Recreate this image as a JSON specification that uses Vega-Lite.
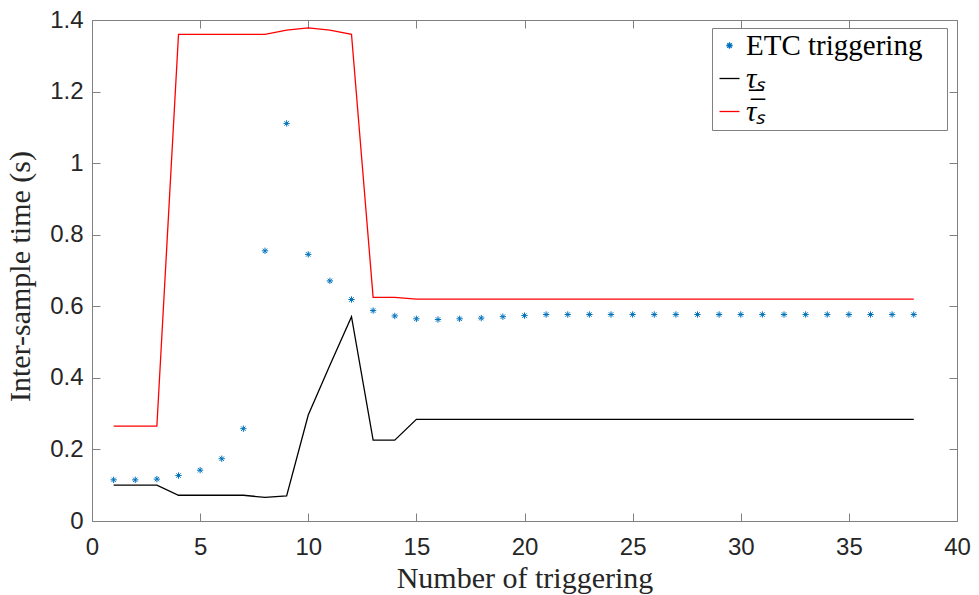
{
  "$schema": "https://vega.github.io/schema/vega-lite/v6.json",
  "autosize": "none",
  "width": 865,
  "height": 501,
  "padding": {"left": 92, "top": 20, "right": 22, "bottom": 74},
  "background": "white",
  "config": {"view": {"stroke": null}},
  "datasets": {
    "etc": [
      {"n":1,"t":0.115},{"n":2,"t":0.115},{"n":3,"t":0.117},{"n":4,"t":0.127},{"n":5,"t":0.142},
      {"n":6,"t":0.174},{"n":7,"t":0.258},{"n":8,"t":0.755},{"n":9,"t":1.111},{"n":10,"t":0.745},
      {"n":11,"t":0.671},{"n":12,"t":0.619},{"n":13,"t":0.588},{"n":14,"t":0.573},{"n":15,"t":0.565},
      {"n":16,"t":0.563},{"n":17,"t":0.565},{"n":18,"t":0.567},{"n":19,"t":0.571},{"n":20,"t":0.574},
      {"n":21,"t":0.577},{"n":22,"t":0.577},{"n":23,"t":0.577},{"n":24,"t":0.577},{"n":25,"t":0.577},
      {"n":26,"t":0.577},{"n":27,"t":0.577},{"n":28,"t":0.577},{"n":29,"t":0.577},{"n":30,"t":0.577},
      {"n":31,"t":0.577},{"n":32,"t":0.577},{"n":33,"t":0.577},{"n":34,"t":0.577},{"n":35,"t":0.577},
      {"n":36,"t":0.577},{"n":37,"t":0.577},{"n":38,"t":0.577}
    ],
    "lower": [
      {"n":1,"t":0.1},{"n":2,"t":0.1},{"n":3,"t":0.1},{"n":4,"t":0.072},{"n":5,"t":0.072},
      {"n":6,"t":0.072},{"n":7,"t":0.072},{"n":8,"t":0.066},{"n":9,"t":0.07},{"n":10,"t":0.296},
      {"n":11,"t":0.435},{"n":12,"t":0.571},{"n":13,"t":0.226},{"n":14,"t":0.226},{"n":15,"t":0.284},
      {"n":16,"t":0.284},{"n":17,"t":0.284},{"n":18,"t":0.284},{"n":19,"t":0.284},{"n":20,"t":0.284},
      {"n":21,"t":0.284},{"n":22,"t":0.284},{"n":23,"t":0.284},{"n":24,"t":0.284},{"n":25,"t":0.284},
      {"n":26,"t":0.284},{"n":27,"t":0.284},{"n":28,"t":0.284},{"n":29,"t":0.284},{"n":30,"t":0.284},
      {"n":31,"t":0.284},{"n":32,"t":0.284},{"n":33,"t":0.284},{"n":34,"t":0.284},{"n":35,"t":0.284},
      {"n":36,"t":0.284},{"n":37,"t":0.284},{"n":38,"t":0.284}
    ],
    "upper": [
      {"n":1,"t":0.265},{"n":2,"t":0.265},{"n":3,"t":0.265},{"n":4,"t":1.36},{"n":5,"t":1.36},
      {"n":6,"t":1.36},{"n":7,"t":1.36},{"n":8,"t":1.36},{"n":9,"t":1.372},{"n":10,"t":1.378},
      {"n":11,"t":1.372},{"n":12,"t":1.36},{"n":13,"t":0.625},{"n":14,"t":0.625},{"n":15,"t":0.62},
      {"n":16,"t":0.62},{"n":17,"t":0.62},{"n":18,"t":0.62},{"n":19,"t":0.62},{"n":20,"t":0.62},
      {"n":21,"t":0.62},{"n":22,"t":0.62},{"n":23,"t":0.62},{"n":24,"t":0.62},{"n":25,"t":0.62},
      {"n":26,"t":0.62},{"n":27,"t":0.62},{"n":28,"t":0.62},{"n":29,"t":0.62},{"n":30,"t":0.62},
      {"n":31,"t":0.62},{"n":32,"t":0.62},{"n":33,"t":0.62},{"n":34,"t":0.62},{"n":35,"t":0.62},
      {"n":36,"t":0.62},{"n":37,"t":0.62},{"n":38,"t":0.62}
    ]
  },
  "resolve": {"axis": {"x": "independent", "y": "independent"}},
  "layer": [
    {
      "data": {"name": "lower"},
      "transform": [{"calculate": "'\u03c4\u0332\u209b'", "as": "series"}],
      "mark": {"type": "line", "strokeWidth": 1.3},
      "encoding": {
        "x": {"field": "n", "type": "quantitative", "scale": {"domain": [0, 40], "nice": false},
          "axis": {"orient": "bottom", "values": [0,5,10,15,20,25,30,35,40], "title": "Number of triggering",
            "titleFont": "Liberation Serif", "titleFontSize": 30, "titleFontWeight": "normal", "titleColor": "#262626", "titlePadding": 4,
            "labelFont": "Liberation Sans", "labelFontSize": 24, "labelColor": "#262626", "labelPadding": 22,
            "tickSize": -8, "tickColor": "#808080", "domainColor": "#808080", "grid": false, "labelFlush": false}},
        "y": {"field": "t", "type": "quantitative", "scale": {"domain": [0, 1.4], "nice": false},
          "axis": {"orient": "left", "values": [0,0.2,0.4,0.6,0.8,1,1.2,1.4], "format": "~g", "title": "Inter-sample time (s)",
            "titleFont": "Liberation Serif", "titleFontSize": 30, "titleFontWeight": "normal", "titleColor": "#262626", "titlePadding": 14,
            "titleY": 256,
            "labelFont": "Liberation Sans", "labelFontSize": 24, "labelColor": "#262626", "labelPadding": 17,
            "tickSize": -8, "tickColor": "#808080", "domainColor": "#808080", "grid": false, "labelFlush": false}},
        "color": {"field": "series", "type": "nominal",
          "scale": {"domain": ["ETC triggering", "\u03c4\u0332\u209b", "\u03c4\u0305\u209b"], "range": ["#0072BD", "#000000", "#FF0000"]},
          "legend": {"title": null, "orient": "none", "legendX": 620, "legendY": 8, "padding": 3,
            "strokeColor": "#808080", "fillColor": "white",
            "labelFont": "Liberation Serif", "labelFontSize": 29, "labelColor": "#000000", "rowPadding": 3,
            "labelLimit": 0,
            "symbolStrokeWidth": 1.3, "labelOffset": 2,
            "labelExpr": "datum.label + '\u2800'",
            "encode": {
              "symbols": {"update": {"size": {"signal": "datum.value === 'ETC triggering' ? 40 : 400"}}},
              "labels": {"update": {"fontStyle": {"signal": "datum.value === 'ETC triggering' ? 'normal' : 'italic'"}}}
            }}},
        "shape": {"field": "series", "type": "nominal",
          "scale": {"domain": ["ETC triggering", "\u03c4\u0332\u209b", "\u03c4\u0305\u209b"],
            "range": ["M-1,0L1,0M0,-1L0,1M-0.7,-0.7L0.7,0.7M-0.7,0.7L0.7,-0.7", "stroke", "stroke"]},
          "legend": null}
      }
    },
    {
      "data": {"name": "upper"},
      "transform": [{"calculate": "'\u03c4\u0305\u209b'", "as": "series"}],
      "mark": {"type": "line", "strokeWidth": 1.3},
      "encoding": {
        "x": {"field": "n", "type": "quantitative",
          "axis": {"orient": "top", "values": [0,5,10,15,20,25,30,35,40], "labels": false, "title": null,
            "tickSize": -8, "tickColor": "#808080", "domainColor": "#808080", "grid": false}},
        "y": {"field": "t", "type": "quantitative",
          "axis": {"orient": "right", "values": [0,0.2,0.4,0.6,0.8,1,1.2,1.4], "labels": false, "title": null,
            "tickSize": -8, "tickColor": "#808080", "domainColor": "#808080", "grid": false}},
        "color": {"field": "series", "type": "nominal"}
      }
    },
    {
      "data": {"name": "etc"},
      "transform": [{"calculate": "'ETC triggering'", "as": "series"}],
      "mark": {"type": "point", "filled": false, "strokeWidth": 1, "size": 40, "opacity": 1},
      "encoding": {
        "x": {"field": "n", "type": "quantitative", "axis": null},
        "y": {"field": "t", "type": "quantitative", "axis": null},
        "color": {"field": "series", "type": "nominal"},
        "shape": {"field": "series", "type": "nominal"}
      }
    }
  ]
}
